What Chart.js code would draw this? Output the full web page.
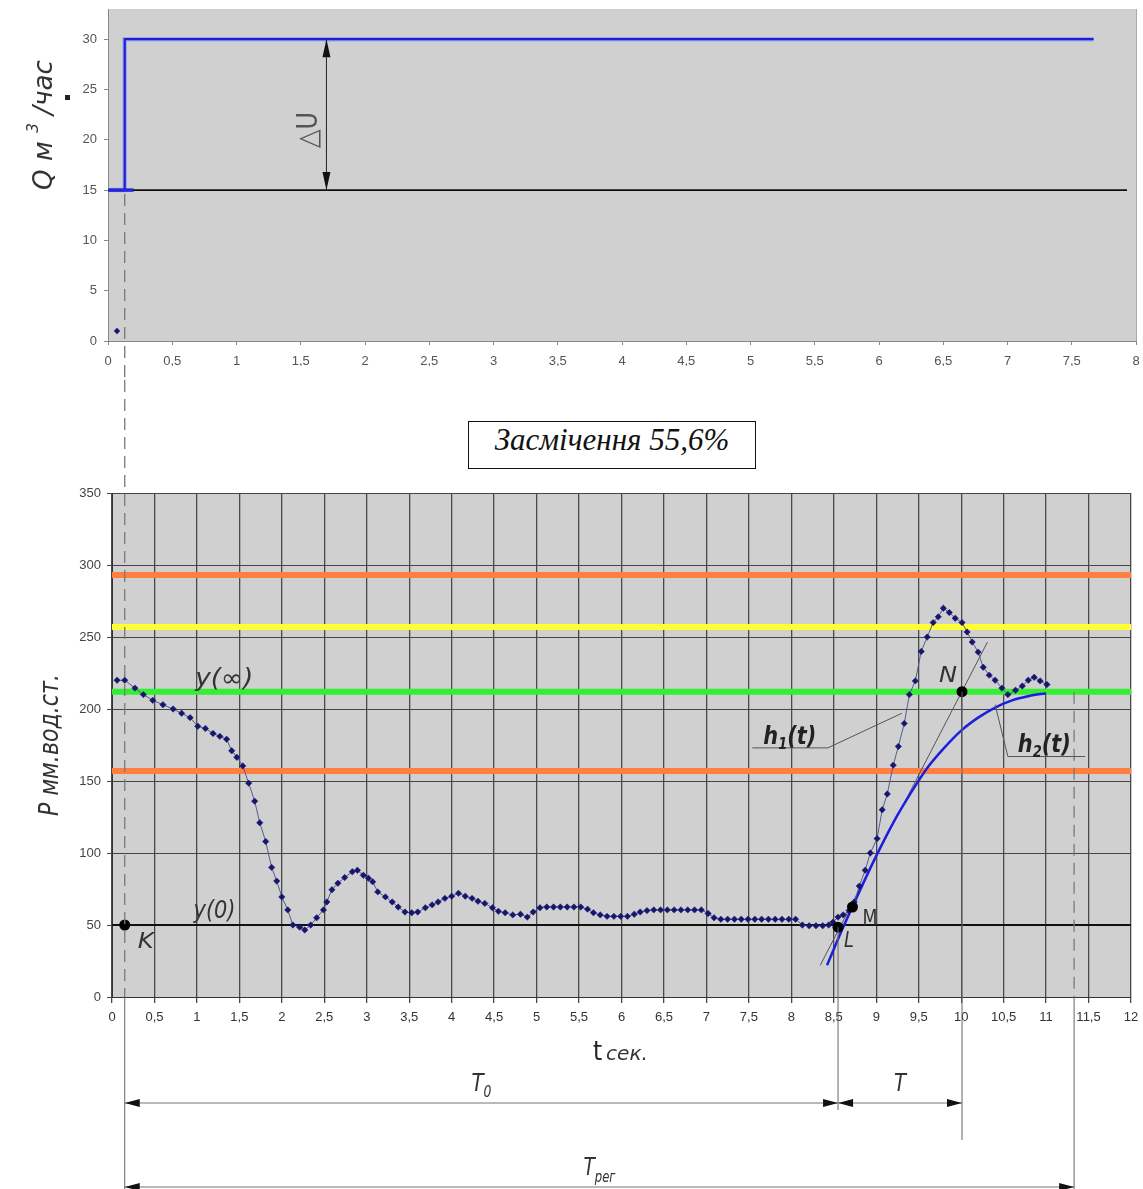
<!DOCTYPE html>
<html lang="uk">
<head>
<meta charset="utf-8">
<title>Засмічення 55,6%</title>
<script src="https://cdn.jsdelivr.net/npm/chart.js@4.4.1/dist/chart.umd.min.js"></script>
<style>
  html, body { margin: 0; background: #fff; }
  body { position: relative; width: 1143px; height: 1189px; overflow: hidden; }
  canvas { position: absolute; left: 0; }
  #flowChart { top: 0; }
  #pressureChart { top: 380px; }
  .caption {
    position: absolute; left: 468px; top: 421px; width: 286px; height: 46px;
    border: 1.5px solid #111; color: #111; text-align: center; line-height: 46px;
    font: italic 31px "Liberation Serif", "DejaVu Serif", serif;
  }
</style>
</head>
<body>
<canvas id="flowChart" width="1143" height="380"></canvas>
<div class="caption">Засмічення 55,6%</div>
<canvas id="pressureChart" width="1143" height="809"></canvas>
<script>
// top chart: flow step Q, m3/h
const flowTime = [0, 0.13, 0.13, 7.67]
const flowValue = [15, 15, 30, 30]
const flowStubTime = [0, 0.2]
const flowStubValue = [15, 15]
const flowBaseTime = [0, 7.93]
const flowBaseValue = [15, 15]
const strayTime = [0.07]
const strayValue = [1]
const stepTimeTop = 0.13
const deltaUTime = 1.7

// bottom chart: pressure P, mm water column
const pressureTime = [
  0.06, 0.15, 0.27, 0.37, 0.48, 0.60, 0.72, 0.82, 0.92, 1.01, 1.10, 1.19, 1.27, 1.35, 1.41, 1.47,
  1.54, 1.61, 1.68, 1.74, 1.81, 1.88, 1.94, 2.00, 2.07, 2.13, 2.21, 2.27, 2.34, 2.41, 2.49, 2.53,
  2.59, 2.66, 2.74, 2.83, 2.89, 2.96, 3.02, 3.07, 3.13, 3.22, 3.30, 3.37, 3.45, 3.53, 3.60, 3.69,
  3.77, 3.84, 3.92, 4.00, 4.08, 4.16, 4.24, 4.31, 4.39, 4.48, 4.55, 4.63, 4.72, 4.81, 4.89, 4.96,
  5.04, 5.12, 5.20, 5.28, 5.36, 5.44, 5.52, 5.60, 5.67, 5.75, 5.83, 5.91, 5.99, 6.07, 6.15, 6.22,
  6.30, 6.38, 6.46, 6.54, 6.62, 6.70, 6.78, 6.86, 6.94, 7.02, 7.09, 7.17, 7.25, 7.33, 7.41, 7.49,
  7.57, 7.65, 7.73, 7.81, 7.89, 7.97, 8.05, 8.13, 8.21, 8.29, 8.37, 8.44, 8.49, 8.55, 8.61, 8.68,
  8.74, 8.80, 8.87, 8.93, 9.01, 9.07, 9.13, 9.20, 9.26, 9.33, 9.39, 9.46, 9.53, 9.60, 9.67, 9.73,
  9.79, 9.86, 9.93, 10.01, 10.07, 10.13, 10.20, 10.26, 10.33, 10.40, 10.48, 10.55, 10.64, 10.72,
  10.79, 10.86, 10.93, 11.01
]
const pressureValue = [
  220, 220, 214.5, 210, 206, 203, 200, 197, 194, 188, 186.5, 183, 181, 179, 171, 166.5,
  160.5, 148.5, 136, 121, 108, 90, 80.5, 69.5, 60.5, 50, 48.5, 46.5, 50, 55, 60.5, 66,
  74.5, 79, 83, 87, 88, 84.5, 82.5, 80, 73, 69.5, 66, 62.5, 59, 58.5, 59, 62,
  64, 66, 68.5, 70, 72, 70, 68.5, 66.5, 65, 62, 59.5, 58.5, 57, 57.5, 55.5, 59,
  62, 62.5, 62.5, 62.5, 62.5, 62.5, 62.5, 61, 58.5, 57, 56, 56, 56, 56, 57.5, 59,
  60, 60.5, 60.5, 60.5, 60.5, 60.5, 60.5, 60.5, 60.5, 58, 55, 54, 54, 54, 54, 54,
  54, 54, 54, 54, 54, 54, 54, 50, 49.5, 49.5, 49.5, 50, 52, 55.5, 57, 60,
  66, 77, 88, 100, 110, 130, 141, 161, 174, 190, 210, 219.5, 240, 250, 260, 264,
  270, 267, 263, 260, 253.5, 246.5, 239.5, 229, 223.5, 220, 214.5, 210, 213, 216,
  220, 222, 219.5, 217
]
const modelTime = [8.42, 8.6, 8.8, 9.0, 9.2, 9.4, 9.6, 9.8, 10.0, 10.2, 10.4, 10.6, 10.8, 11.0]
const modelValue = [22, 47, 73, 98, 121, 141, 159, 173, 185, 194, 201, 206, 209, 211]
const tangentTime = [8.34, 10.31]
const tangentValue = [22, 246.5]
const levelValues = [293, 257, 212, 157]
const baseLevel = 50
const keyNames = ["K", "L", "M", "N"]
const keyTime = [0.15, 8.55, 8.72, 10.01]
const keyValue = [50, 48.5, 62.5, 212]
const settleTime = 11.33

const levelColors = ["#ff7f40", "#ffff33", "#33ee33", "#ff7f40"]
const handFont = "'Liberation Sans Narrow', 'DejaVu Sans Condensed', 'Liberation Sans', sans-serif"
const tickFont = { family: "'Liberation Sans', Arial, sans-serif", size: 13 }

const pts = (xs, ys) => xs.map((x, i) => ({ x, y: ys[i] }))
const comma = (v) => String(v).replace(".", ",")

// fixed axis box, no label overhang padding
const fixBox = (size) => (s) => {
  if (s.isHorizontal()) s.height = size
  else s.width = size
  s.paddingTop = s.paddingBottom = s.paddingLeft = s.paddingRight = 0
}

// draws text made of parts [text, size, dy], optionally squeezed to a width
function rich(ctx, parts, x, y, opts = {}) {
  const style = opts.style || "italic"
  ctx.save()
  const widths = parts.map(([t, s]) => {
    ctx.font = `${style} ${s}px ${handFont}`
    return ctx.measureText(t).width
  })
  const total = widths.reduce((a, b) => a + b, 0)
  ctx.translate(x, y)
  if (opts.rotate) ctx.rotate(opts.rotate)
  if (opts.width) ctx.scale(opts.width / total, 1)
  let cx = opts.align === "center" ? -total / 2 : 0
  ctx.fillStyle = opts.color || "#222"
  ctx.textBaseline = "alphabetic"
  parts.forEach(([t, s, dy = 0], i) => {
    ctx.font = `${style} ${s}px ${handFont}`
    ctx.fillText(t, cx, dy)
    cx += widths[i]
  })
  ctx.restore()
}

function line(ctx, x1, y1, x2, y2) {
  ctx.beginPath()
  ctx.moveTo(x1, y1)
  ctx.lineTo(x2, y2)
  ctx.stroke()
}

function head(ctx, x, y, angle, len = 15, half = 4) {
  ctx.save()
  ctx.translate(x, y)
  ctx.rotate(angle)
  ctx.beginPath()
  ctx.moveTo(0, 0)
  ctx.lineTo(len, -half)
  ctx.lineTo(len, half)
  ctx.closePath()
  ctx.fillStyle = "#111"
  ctx.fill()
  ctx.restore()
}

function dim(ctx, x1, x2, y) {
  ctx.strokeStyle = "#777"
  ctx.lineWidth = 1.2
  line(ctx, x1, y, x2, y)
  head(ctx, x1, y, 0)
  head(ctx, x2, y, Math.PI)
}

function plotBackground(color) {
  return {
    id: "plotBackground",
    beforeDraw(chart) {
      const { ctx, chartArea: a } = chart
      ctx.save()
      ctx.fillStyle = color
      ctx.fillRect(a.left, a.top, a.right - a.left, a.bottom - a.top)
      ctx.restore()
    }
  }
}

const flowNotes = {
  id: "flowNotes",
  afterDraw(chart) {
    const { ctx, chartArea: a, scales: { x, y } } = chart
    ctx.save()
    ctx.strokeStyle = "#aaa"
    ctx.lineWidth = 1
    line(ctx, a.right + 0.5, a.top, a.right + 0.5, a.bottom)

    ctx.strokeStyle = "#777"
    ctx.lineWidth = 1.3
    ctx.setLineDash([12, 7])
    line(ctx, x.getPixelForValue(stepTimeTop), y.getPixelForValue(15) + 4, x.getPixelForValue(stepTimeTop), chart.height)
    ctx.setLineDash([])

    const ax = x.getPixelForValue(deltaUTime)
    ctx.strokeStyle = "#222"
    ctx.lineWidth = 1
    line(ctx, ax, y.getPixelForValue(30), ax, y.getPixelForValue(15))
    head(ctx, ax, y.getPixelForValue(30), Math.PI / 2, 18, 4)
    head(ctx, ax, y.getPixelForValue(15), -Math.PI / 2, 18, 4)

    rich(ctx, [["△U", 28]], ax - 9, 130, { rotate: -Math.PI / 2, align: "center", style: "normal", color: "#555", width: 36 })
    rich(ctx, [["Q м ", 26], ["3", 15, -14], [" /час", 26]], 52, 125,
      { rotate: -Math.PI / 2, align: "center", color: "#333", width: 130 })
    ctx.fillStyle = "#222"
    ctx.fillRect(65, 95, 5, 5)
    ctx.restore()
  }
}

new Chart(document.getElementById("flowChart"), {
  type: "line",
  data: {
    datasets: [
      { data: pts(flowStubTime, flowStubValue), borderColor: "#2626d9", borderWidth: 3.5, pointRadius: 0 },
      { data: pts(flowTime, flowValue), borderColor: "#1f1fd0", borderWidth: 2.2, pointRadius: 0 },
      { data: pts(flowTime, flowValue), borderColor: "#9ea6ee", borderWidth: 4.5, pointRadius: 0 },
      { data: pts(flowBaseTime, flowBaseValue), borderColor: "#111", borderWidth: 1.6, pointRadius: 0 },
      {
        data: pts(strayTime, strayValue), showLine: false, pointStyle: "rectRot", pointRadius: 3.2,
        pointBackgroundColor: "#16166e", pointBorderWidth: 0
      }
    ]
  },
  options: {
    responsive: false,
    animation: false,
    layout: { padding: { top: 9, right: 7, bottom: 14, left: 0 } },
    plugins: { legend: { display: false }, tooltip: { enabled: false } },
    scales: {
      x: {
        type: "linear", min: 0, max: 8,
        afterFit: fixBox(25),
        ticks: { stepSize: 0.5, callback: comma, color: "#555", font: tickFont, padding: 9, maxRotation: 0, autoSkip: false },
        grid: { drawOnChartArea: false, tickLength: 4, color: "#888" },
        border: { color: "#888" }
      },
      y: {
        min: 0, max: 33,
        afterFit: fixBox(108),
        ticks: { stepSize: 5, includeBounds: false, color: "#555", font: tickFont, padding: 7 },
        grid: { drawOnChartArea: false, tickLength: 4, color: "#888" },
        border: { color: "#888" }
      }
    }
  },
  plugins: [plotBackground("#d0d0d0"), flowNotes]
})

const pressureNotes = {
  id: "pressureNotes",
  afterDraw(chart) {
    const { ctx, chartArea: a, scales: { x, y } } = chart
    const X = (v) => x.getPixelForValue(v)
    const Y = (v) => y.getPixelForValue(v)
    const H = chart.height
    ctx.save()

    ctx.strokeStyle = "#7a7a7a"
    ctx.lineWidth = 1.3
    ctx.setLineDash([12, 7])
    line(ctx, X(keyTime[0]), 0, X(keyTime[0]), a.bottom)
    line(ctx, X(settleTime), Y(levelValues[2]), X(settleTime), a.bottom)
    ctx.setLineDash([])

    ctx.strokeStyle = "#666"
    ctx.lineWidth = 1
    line(ctx, X(keyTime[0]), a.bottom, X(keyTime[0]), H)
    line(ctx, X(settleTime), a.bottom, X(settleTime), H)
    line(ctx, X(keyTime[1]), Y(keyValue[1]), X(keyTime[1]), a.bottom + 113)
    line(ctx, X(keyTime[3]), Y(keyValue[3]), X(keyTime[3]), a.bottom + 143)

    // h1 / h2 leaders
    ctx.strokeStyle = "#555"
    ctx.beginPath()
    ctx.moveTo(X(7.54), Y(173)); ctx.lineTo(X(8.43), Y(173)); ctx.lineTo(X(9.30), Y(197))
    ctx.moveTo(X(10.40), Y(203)); ctx.lineTo(X(10.55), Y(167)); ctx.lineTo(X(11.46), Y(167))
    ctx.stroke()

    dim(ctx, X(keyTime[0]), X(keyTime[1]), a.bottom + 106)
    dim(ctx, X(keyTime[1]), X(keyTime[3]), a.bottom + 106)
    dim(ctx, X(keyTime[0]), X(settleTime), a.bottom + 190)

    const midT0 = (X(keyTime[0]) + X(keyTime[1])) / 2
    const midT = (X(keyTime[1]) + X(keyTime[3])) / 2
    const midReg = (X(keyTime[0]) + X(settleTime)) / 2
    rich(ctx, [["T", 24], ["0", 15, 6]], midT0, a.bottom + 94, { align: "center", color: "#333", width: 20 })
    rich(ctx, [["T", 24]], midT, a.bottom + 94, { align: "center", color: "#333", width: 12 })
    rich(ctx, [["T", 24], ["рег", 15, 7]], midReg, a.bottom + 178, { align: "center", color: "#333", width: 32 })

    rich(ctx, [["t", 26]], 593, a.bottom + 63, { style: "normal", color: "#222" })
    rich(ctx, [["сек.", 19]], 606, a.bottom + 63, { color: "#333", width: 42 })

    rich(ctx, [["P мм.вод.ст.", 26]], 58, 365, { rotate: -Math.PI / 2, align: "center", color: "#333", width: 142 })

    rich(ctx, [["y(∞)", 24]], X(0.98), Y(216), { color: "#333", width: 58 })
    rich(ctx, [["y(0)", 24]], X(0.96), Y(55), { color: "#333", width: 42 })
    rich(ctx, [["K", 22]], X(keyTime[0]) + 13, Y(keyValue[0]) + 23, { color: "#333", width: 16 })
    rich(ctx, [["L", 21]], X(keyTime[1]) + 6, Y(keyValue[1]) + 20, { color: "#333", width: 10 })
    rich(ctx, [["M", 21]], X(keyTime[2]) + 10, Y(keyValue[2]) + 18, { style: "normal", color: "#333", width: 15 })
    rich(ctx, [["N", 22]], X(keyTime[3]) - 23, Y(keyValue[3]) - 10, { color: "#333", width: 18 })
    rich(ctx, [["h", 24], ["1", 15, 5], ["(t)", 24]], X(7.54) + 11, Y(173) - 4, { style: "italic bold", color: "#222", width: 53 })
    rich(ctx, [["h", 24], ["2", 15, 5], ["(t)", 24]], X(10.55) + 10, Y(167) - 5, { style: "italic bold", color: "#222", width: 53 })
    ctx.restore()
  }
}

new Chart(document.getElementById("pressureChart"), {
  type: "line",
  data: {
    datasets: [
      {
        data: pts(keyTime, keyValue), showLine: false, pointRadius: 5.5,
        pointBackgroundColor: "#000", pointBorderWidth: 0
      },
      {
        data: pts(pressureTime, pressureValue), borderColor: "#5a5a92", borderWidth: 1,
        pointStyle: "rectRot", pointRadius: 3.2, pointBackgroundColor: "#16166e",
        pointBorderColor: "#16166e", pointBorderWidth: 0.5
      },
      {
        data: pts(modelTime, modelValue), borderColor: "#1e1ee0", borderWidth: 2.5,
        pointRadius: 0, cubicInterpolationMode: "monotone"
      },
      { data: pts(tangentTime, tangentValue), borderColor: "#555", borderWidth: 1, pointRadius: 0 },
      { data: [{ x: 0, y: baseLevel }, { x: 12, y: baseLevel }], borderColor: "#111", borderWidth: 2, pointRadius: 0 },
      ...levelValues.map((v, i) => ({
        data: [{ x: 0, y: v }, { x: 12, y: v }], borderColor: levelColors[i], borderWidth: 6, pointRadius: 0
      }))
    ]
  },
  options: {
    responsive: false,
    animation: false,
    layout: { padding: { top: 113, right: 12, bottom: 164, left: 0 } },
    plugins: { legend: { display: false }, tooltip: { enabled: false } },
    scales: {
      x: {
        type: "linear", min: 0, max: 12,
        afterFit: fixBox(28),
        ticks: { stepSize: 0.5, callback: comma, color: "#333", font: tickFont, padding: 7, maxRotation: 0, autoSkip: false },
        grid: { color: "#4a4a4a", lineWidth: 1.3, tickLength: 6 },
        border: { color: "#333" }
      },
      y: {
        min: 0, max: 350,
        afterFit: fixBox(112),
        ticks: { stepSize: 50, color: "#444", font: tickFont, padding: 6 },
        grid: { color: "#444", lineWidth: 1, tickLength: 5 },
        border: { color: "#333" }
      }
    }
  },
  plugins: [plotBackground("#d0d0d0"), pressureNotes]
})
</script>
</body>
</html>
